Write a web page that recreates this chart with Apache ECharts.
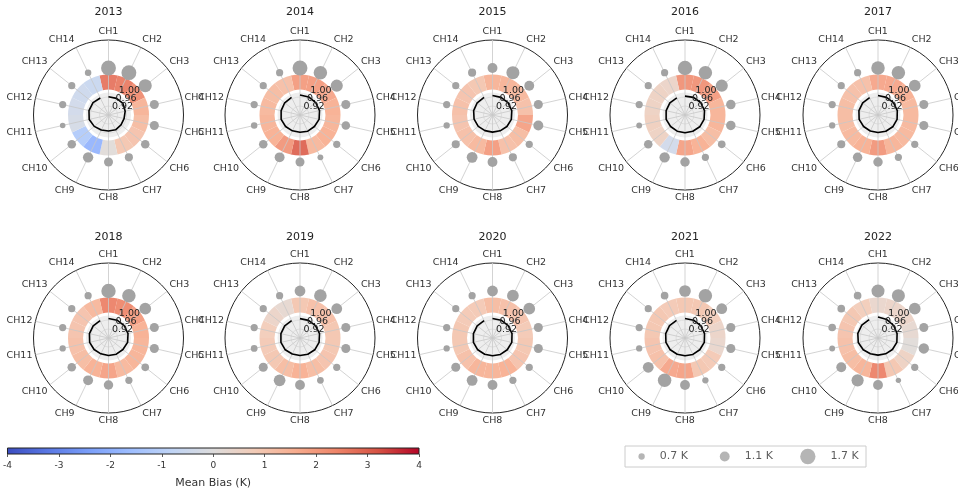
<!DOCTYPE html>
<html>
<head>
<meta charset="utf-8">
<script src="https://cdn.jsdelivr.net/npm/echarts@6/dist/echarts.min.js"></script>
<style>
  html, body { margin: 0; padding: 0; background: #ffffff; }
  #chart { width: 958px; height: 490px; }
</style>
</head>
<body>
<div id="chart"></div>
<script>
// Channels around each dial and the years shown
const channels = ['CH1','CH2','CH3','CH4','CH5','CH6','CH7','CH8','CH9','CH10','CH11','CH12','CH13','CH14'];
const years = ['2013','2014','2015','2016','2017','2018','2019','2020','2021','2022'];

// Mean bias (K) per channel, one array per year
const bias2013 = [2.7, 2.6, 2.3, 1.5, 1.3, 1.1, 1.0, 0.1, -1.9, -1.2, -0.3, -0.4, -0.5, -0.6];
const bias2014 = [2.0, 2.0, 1.8, 1.6, 1.5, 1.6, 1.4, 3.0, 2.1, 1.6, 1.5, 1.4, 1.3, 1.2];
const bias2015 = [1.5, 1.5, 1.4, 1.2, 1.9, 1.3, 1.2, 2.0, 1.4, 1.2, 1.1, 1.2, 1.1, 1.0];
const bias2016 = [2.2, 2.2, 2.0, 1.5, 1.5, 1.3, 1.6, 1.9, -0.4, 0.6, 0.7, 0.6, 0.6, 0.5];
const bias2017 = [1.8, 1.8, 1.6, 1.4, 1.4, 1.4, 1.5, 2.1, 1.6, 1.4, 1.3, 1.3, 1.2, 1.2];
const bias2018 = [2.5, 2.4, 2.0, 1.6, 1.5, 1.5, 1.4, 1.9, 1.6, 1.3, 1.2, 1.1, 1.1, 1.4];
const bias2019 = [1.0, 1.2, 1.2, 1.0, 1.0, 1.1, 1.3, 1.6, 1.3, 1.0, 0.9, 0.8, 0.5, 0.3];
const bias2020 = [1.3, 1.2, 1.1, 0.9, 1.0, 1.1, 1.6, 1.5, 1.5, 1.2, 1.0, 1.0, 0.9, 0.9];
const bias2021 = [1.0, 1.0, 0.8, 0.5, 0.4, 0.9, 1.0, 1.9, 1.8, 1.2, 1.1, 1.0, 1.0, 0.9];
const bias2022 = [0.4, 0.5, 0.5, 0.3, 0.1, 0.6, 1.0, 2.5, 1.5, 1.3, 1.2, 1.1, 1.0, 0.8];

// Standard deviation (K) per channel, shown as dot size
const std2013 = [1.65, 1.65, 1.45, 1.0, 1.0, 0.95, 0.9, 1.0, 1.15, 0.95, 0.62, 0.8, 0.8, 0.72];
const std2014 = [1.65, 1.5, 1.35, 1.0, 0.95, 0.8, 0.65, 1.0, 1.1, 0.95, 0.72, 0.8, 0.8, 0.8];
const std2015 = [1.1, 1.45, 1.1, 1.0, 1.1, 0.8, 0.9, 1.1, 1.2, 0.9, 0.7, 0.8, 0.8, 0.9];
const std2016 = [1.6, 1.5, 1.35, 1.05, 1.05, 0.85, 0.8, 1.05, 1.15, 0.95, 0.65, 0.8, 0.8, 0.8];
const std2017 = [1.5, 1.5, 1.3, 1.0, 1.0, 0.8, 0.8, 1.05, 1.05, 0.9, 0.7, 0.8, 0.8, 0.8];
const std2018 = [1.6, 1.5, 1.3, 1.0, 1.0, 0.85, 0.8, 1.05, 1.1, 0.95, 0.7, 0.8, 0.8, 0.8];
const std2019 = [1.2, 1.4, 1.2, 1.0, 1.0, 0.8, 0.75, 1.1, 1.3, 1.0, 0.75, 0.8, 0.8, 0.8];
const std2020 = [1.2, 1.3, 1.3, 1.0, 1.0, 0.8, 0.8, 1.1, 1.2, 1.0, 0.7, 0.8, 0.8, 0.8];
const std2021 = [1.3, 1.5, 1.2, 1.0, 1.0, 0.8, 0.7, 1.1, 1.5, 1.2, 0.7, 0.8, 0.8, 0.85];
const std2022 = [1.45, 1.45, 1.3, 1.0, 1.15, 0.8, 0.6, 1.1, 1.35, 1.1, 0.65, 0.85, 0.85, 0.85];

// Correlation coefficient per channel, drawn as the inner black trace
const corr2013 = [0.961, 0.962, 0.962, 0.956, 0.951, 0.951, 0.953, 0.951, 0.954, 0.961, 0.968, 0.969, 0.968, 0.964];
const corr2014 = [0.969, 0.969, 0.969, 0.969, 0.967, 0.962, 0.960, 0.957, 0.958, 0.962, 0.966, 0.966, 0.967, 0.967];
const corr2015 = [0.967, 0.967, 0.968, 0.968, 0.966, 0.962, 0.958, 0.956, 0.957, 0.961, 0.964, 0.966, 0.967, 0.967];
const corr2016 = [0.964, 0.967, 0.969, 0.969, 0.967, 0.964, 0.960, 0.959, 0.960, 0.962, 0.966, 0.966, 0.966, 0.964];
const corr2017 = [0.967, 0.967, 0.968, 0.968, 0.967, 0.964, 0.960, 0.958, 0.959, 0.962, 0.966, 0.967, 0.967, 0.966];
const corr2018 = [0.967, 0.968, 0.969, 0.969, 0.967, 0.962, 0.960, 0.958, 0.958, 0.962, 0.966, 0.967, 0.967, 0.966];
const corr2019 = [0.966, 0.967, 0.968, 0.969, 0.967, 0.964, 0.960, 0.958, 0.959, 0.964, 0.967, 0.967, 0.967, 0.966];
const corr2020 = [0.967, 0.968, 0.969, 0.969, 0.968, 0.964, 0.961, 0.959, 0.960, 0.964, 0.967, 0.967, 0.967, 0.966];
const corr2021 = [0.967, 0.968, 0.969, 0.969, 0.968, 0.964, 0.961, 0.959, 0.960, 0.964, 0.967, 0.968, 0.968, 0.967];
const corr2022 = [0.973, 0.971, 0.969, 0.967, 0.966, 0.962, 0.958, 0.956, 0.958, 0.964, 0.970, 0.972, 0.972, 0.971];

// Tick labels
const corrTicks = [0.92, 0.96, 1.00];
const biasTicks = [-4, -3, -2, -1, 0, 1, 2, 3, 4];
const legendStd = [0.7, 1.1, 1.7];

const biasByYear = [bias2013, bias2014, bias2015, bias2016, bias2017, bias2018, bias2019, bias2020, bias2021, bias2022];
const stdByYear = [std2013, std2014, std2015, std2016, std2017, std2018, std2019, std2020, std2021, std2022];
const corrByYear = [corr2013, corr2014, corr2015, corr2016, corr2017, corr2018, corr2019, corr2020, corr2021, corr2022];

// Layout
const FONT = 'DejaVu Sans';
const COLS_X = [108.5, 300, 492.5, 685, 878];
const ROWS_Y = [115, 338];
const OUTER_R = 75;
const RING_R = [25.5, 40.5];
const DISK_R = 22.5;
const CORR_R = 27;
const DOT_R = 47;
const DOT_SCALE = 9;
const CORR_MIN = 0.88, CORR_MAX = 1.0, CORR_STEP = 0.04;
const RLABEL_ANGLE = 22.5;   // clockwise from north
const N = channels.length;
const coolwarm = ['#3b4cc0','#5a78e4','#7b9ff9','#9ebeff','#c0d4f5','#dddcdc','#f2cbb7','#f7ac8e','#ee8468','#d65244','#b40426'];

const polar = [], angleAxis = [], radiusAxis = [], series = [], title = [];
const barSeriesIdx = [];
const noAxisParts = () => ({ axisLine: { show: false }, axisTick: { show: false }, axisLabel: { show: false }, splitLine: { show: false } });
// Neighbouring correlation labels overlap a little, so they are split over two label axes
const labelSets = [[corrTicks[0], corrTicks[2]], [corrTicks[1]]];
const corrLabelFor = set => v => set.some(t => Math.abs(t - v) < 1e-6) ? v.toFixed(2) : '';
const PER_PANEL = 4 + labelSets.length;

years.forEach((yr, i) => {
  const cx = COLS_X[i % 5];
  const row = Math.floor(i / 5);
  const cy = ROWS_Y[row];
  const base = i * PER_PANEL;

  title.push({
    text: yr, left: cx, top: cy - 108 + row * 2, textAlign: 'center', padding: 0,
    textStyle: { fontSize: 11, fontWeight: 'normal', color: '#222', fontFamily: FONT }
  });

  // A: frame — outer circle, spokes, channel names, std dots
  polar.push({ center: [cx, cy], radius: OUTER_R });
  angleAxis.push({
    polarIndex: base, type: 'value', min: 0, max: N, interval: 1,
    startAngle: 90, clockwise: true, z: 2,
    axisLine: { show: false },
    axisTick: { show: false },
    axisLabel: {
      show: true, color: '#333', fontSize: 9.5, fontFamily: FONT, margin: 3,
      formatter: v => channels[v] || ''
    },
    splitLine: { show: true, lineStyle: { color: '#c8c8c8', width: 0.8 } }
  });
  radiusAxis.push({
    polarIndex: base, type: 'value', min: 0, max: OUTER_R, interval: OUTER_R,
    axisLine: { show: false }, axisTick: { show: false }, axisLabel: { show: false },
    splitLine: { show: true, lineStyle: { color: '#262626', width: 1 } }
  });

  // B: bias ring
  polar.push({ center: [cx, cy], radius: RING_R });
  angleAxis.push(Object.assign({
    polarIndex: base + 1, type: 'category', data: channels, boundaryGap: false,
    startAngle: 90, clockwise: true
  }, noAxisParts()));
  radiusAxis.push(Object.assign({ polarIndex: base + 1, type: 'value', min: 0, max: 1 }, noAxisParts()));

  // C: grey disk behind the correlation trace
  polar.push({ center: [cx, cy], radius: DISK_R });
  angleAxis.push(Object.assign({
    polarIndex: base + 2, type: 'value', min: 0, max: 360, interval: 90, startAngle: 90, z: 0,
    splitArea: { show: true, areaStyle: { color: ['#eeeeee', '#eeeeee'] } }
  }, noAxisParts()));
  radiusAxis.push(Object.assign({ polarIndex: base + 2, type: 'value', min: 0, max: 1 }, noAxisParts()));

  // D: correlation scale with its grid circles
  polar.push({ center: [cx, cy], radius: CORR_R });
  angleAxis.push(Object.assign({
    polarIndex: base + 3, type: 'value', min: 0, max: N, startAngle: 90, clockwise: true
  }, noAxisParts()));
  radiusAxis.push({
    polarIndex: base + 3, type: 'value', min: CORR_MIN, max: CORR_MAX, interval: CORR_STEP, z: 1,
    axisLine: { show: false }, axisTick: { show: false }, axisLabel: { show: false },
    splitLine: { show: true, lineStyle: { color: ['rgba(0,0,0,0)', '#d2d2d2', '#d2d2d2', 'rgba(0,0,0,0)'], width: 0.6 } }
  });

  // E/F: correlation tick labels along a ray 22.5° clockwise from north
  labelSets.forEach((set, s) => {
    const idx = base + 4 + s;
    polar.push({ center: [cx, cy], radius: CORR_R });
    angleAxis.push({ polarIndex: idx, type: 'value', min: 0, max: 360, startAngle: 90 - RLABEL_ANGLE, show: false });
    radiusAxis.push({
      polarIndex: idx, type: 'value', min: CORR_MIN, max: CORR_MAX, interval: CORR_STEP, z: 5,
      axisLine: { show: false }, axisTick: { show: false }, splitLine: { show: false },
      axisLabel: {
        show: true, showMaxLabel: true, showMinLabel: false, hideOverlap: false,
        fontSize: 9.5, fontFamily: FONT, color: '#222',
        margin: 0, align: 'left', verticalAlign: 'middle', formatter: corrLabelFor(set)
      }
    });
  });

  barSeriesIdx.push(series.length);
  series.push({
    type: 'bar', coordinateSystem: 'polar', polarIndex: base + 1,
    data: channels.map((c, k) => [1, c, biasByYear[i][k]]),
    encode: { radius: 0, angle: 1 },
    barCategoryGap: '0%', silent: true, z: 1,
    itemStyle: { opacity: 0.92 }
  });
  series.push({
    type: 'scatter', coordinateSystem: 'polar', polarIndex: base,
    data: channels.map((c, k) => [DOT_R, k, stdByYear[i][k]]),
    symbolSize: d => d[2] * DOT_SCALE, silent: true, z: 3,
    itemStyle: { color: '#a3a3a3', opacity: 1 }
  });
  series.push({
    type: 'line', coordinateSystem: 'polar', polarIndex: base + 3,
    data: channels.map((c, k) => [corrByYear[i][k], k]),
    symbol: 'none', silent: true, z: 4,
    lineStyle: { color: '#000', width: 1.6 }
  });
});

// size key
series.push({
  type: 'scatter', xAxisIndex: 1, yAxisIndex: 1,
  data: legendStd.map((v, k) => [k, 0.5, v]),
  symbolSize: d => d[2] * DOT_SCALE, silent: true,
  itemStyle: { color: '#a3a3a3' },
  label: {
    show: true, position: 'right', distance: 15, fontSize: 11, fontFamily: FONT, color: '#333',
    formatter: p => p.data[2].toFixed(1) + ' K'
  }
});

// colour bar fill follows the same coolwarm ramp as the ring
const barGradient = {
  type: 'linear', x: 0, y: 0, x2: 1, y2: 0,
  colorStops: coolwarm.map((c, k) => ({ offset: k / (coolwarm.length - 1), color: c }))
};

const option = {
  animation: false,
  backgroundColor: '#ffffff',
  textStyle: { fontFamily: FONT },
  title: title,
  polar: polar,
  angleAxis: angleAxis,
  radiusAxis: radiusAxis,
  grid: [
    { left: 4, top: 448, width: 415, height: 15, show: true, borderColor: '#222', borderWidth: 1, backgroundColor: barGradient },
    { left: 625, top: 446, width: 241, height: 21, show: true, borderColor: '#cccccc', borderWidth: 1, backgroundColor: 'transparent' }
  ],
  xAxis: [
    {
      gridIndex: 0, type: 'value', min: biasTicks[0], max: biasTicks[biasTicks.length - 1], interval: 1,
      axisLine: { show: false },
      axisTick: { show: true, length: 3, lineStyle: { color: '#333', width: 0.8 } },
      axisLabel: { fontSize: 9, color: '#333', margin: 7, fontFamily: FONT },
      splitLine: { show: false },
      name: 'Mean Bias (K)', nameLocation: 'middle', nameGap: 24,
      nameTextStyle: { fontSize: 11, color: '#333', fontFamily: FONT }
    },
    { gridIndex: 1, type: 'value', min: -0.2, max: 2.7, show: false }
  ],
  yAxis: [
    { gridIndex: 0, type: 'value', min: 0, max: 1, show: false },
    { gridIndex: 1, type: 'value', min: 0, max: 1, show: false }
  ],
  visualMap: {
    type: 'continuous', show: false, min: -4, max: 4, dimension: 2, seriesIndex: barSeriesIdx,
    inRange: { color: coolwarm }
  },
  series: series
};

const chart = echarts.init(document.getElementById('chart'), null, { renderer: 'canvas' });
chart.setOption(option);
</script>
</body>
</html>
